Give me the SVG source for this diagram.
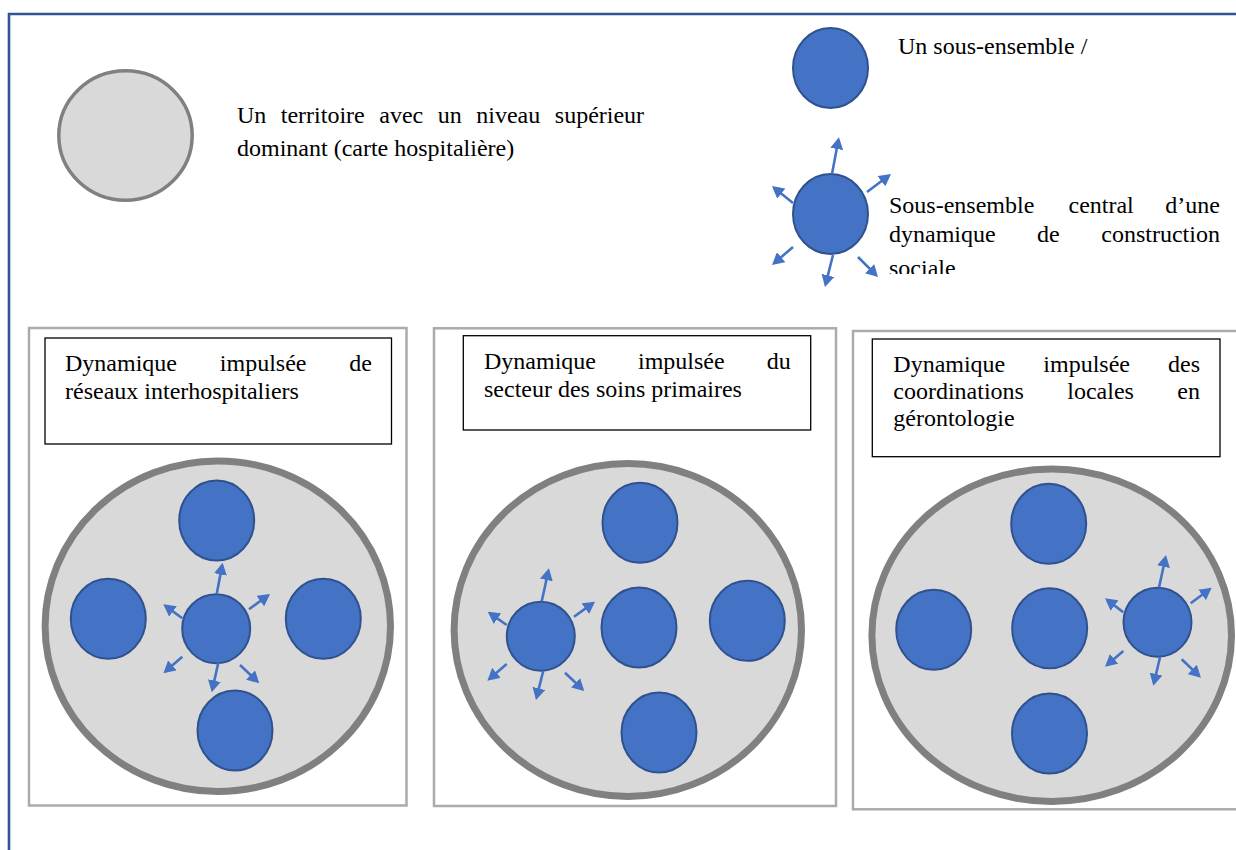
<svg xmlns="http://www.w3.org/2000/svg" width="1236" height="850" viewBox="0 0 1236 850">
<defs>
<style>
.t{font-family:"Liberation Serif",serif;font-size:24px;fill:#000}
.terr{fill:#D9D9D9;stroke:#808080}
.sub{fill:#4472C4;stroke:#2F528F;stroke-width:2}
.panel{fill:#fff;stroke:#ABABAB;stroke-width:2.5}
.tbox{fill:#fff;stroke:#000;stroke-width:1.3}
.arr{stroke:#4472C4;stroke-width:2.6;fill:none;marker-end:url(#ah)}
</style>
<marker id="ah" markerUnits="userSpaceOnUse" markerWidth="12" markerHeight="13" refX="9" refY="6.5" orient="auto">
<path d="M0,0 L12,6.5 L0,13 z" fill="#4472C4"/>
</marker>
<clipPath id="clipLeg"><rect x="880" y="180" width="356" height="94"/></clipPath>
</defs>
<rect x="0" y="0" width="1236" height="850" fill="#fff"/>
<g id="frame">
<path d="M9,850 V14 H1236" fill="none" stroke="#2F5597" stroke-width="2.6"/>
</g>

<g id="legend-territoire">
<ellipse class="terr" cx="125.5" cy="135.5" rx="66.7" ry="64.7" stroke-width="3.5"/>
<text class="t"><tspan x="237" y="123">Un</tspan><tspan x="280.8" y="123">territoire</tspan><tspan x="379.3" y="123">avec</tspan><tspan x="437.8" y="123">un</tspan><tspan x="476.3" y="123">niveau</tspan><tspan x="554.8" y="123">supérieur</tspan><tspan x="237" y="156">dominant (carte hospitalière)</tspan></text>
</g>

<g id="legend-sous-ensemble">
<ellipse class="sub" cx="830.5" cy="68" rx="37.5" ry="40"/>
<text class="t" x="898" y="54">Un sous-ensemble /</text>
</g>

<g id="legend-central">
<ellipse class="sub" cx="830.5" cy="214" rx="37.5" ry="40"/>
<g clip-path="url(#clipLeg)">
<text class="t"><tspan x="889" y="213">Sous-ensemble</tspan><tspan x="1068.5" y="213">central</tspan><tspan x="1165.3" y="213">d’une</tspan><tspan x="889" y="242">dynamique</tspan><tspan x="1037.1" y="242">de</tspan><tspan x="1101.3" y="242">construction</tspan><tspan x="889" y="276">sociale</tspan></text>
</g>
</g>

<g id="panel1">
<rect class="panel" x="29" y="328" width="377.5" height="477.5"/>
<rect class="tbox" x="45" y="338" width="346.5" height="106"/>
<text class="t"><tspan x="65" y="371">Dynamique</tspan><tspan x="219.8" y="371">impulsée</tspan><tspan x="349.3" y="371">de</tspan><tspan x="65" y="399">réseaux interhospitaliers</tspan></text>
<ellipse class="terr" cx="217.8" cy="626.2" rx="172.7" ry="165.3" stroke-width="7"/>
<ellipse class="sub" cx="216.7" cy="520.5" rx="37.5" ry="40"/>
<ellipse class="sub" cx="108.3" cy="618.8" rx="37.5" ry="40"/>
<ellipse class="sub" cx="323.3" cy="618.8" rx="37.5" ry="40"/>
<ellipse class="sub" cx="235" cy="730.5" rx="37.5" ry="40"/>
<ellipse class="sub" cx="216.2" cy="628.7" rx="34" ry="34.5"/>
</g>

<g id="panel2">
<rect class="panel" x="434" y="328.3" width="402" height="477.7"/>
<rect class="tbox" x="463.3" y="335.7" width="347.4" height="94.3"/>
<text class="t"><tspan x="484" y="369">Dynamique</tspan><tspan x="638" y="369">impulsée</tspan><tspan x="766.7" y="369">du</tspan><tspan x="484" y="397">secteur des soins primaires</tspan></text>
<ellipse class="terr" cx="627.8" cy="630" rx="173.7" ry="166.5" stroke-width="7"/>
<ellipse class="sub" cx="640" cy="522.8" rx="37.5" ry="40"/>
<ellipse class="sub" cx="639" cy="627.5" rx="37.5" ry="40"/>
<ellipse class="sub" cx="747.3" cy="620.8" rx="37.5" ry="40"/>
<ellipse class="sub" cx="659" cy="732.5" rx="37.5" ry="40"/>
<ellipse class="sub" cx="540.8" cy="636.2" rx="34" ry="34.5"/>
</g>

<g id="panel3">
<rect class="panel" x="853" y="331" width="400" height="478.3"/>
<rect class="tbox" x="872.3" y="339" width="347.7" height="117.7"/>
<text class="t"><tspan x="893.3" y="372">Dynamique</tspan><tspan x="1043.3" y="372">impulsée</tspan><tspan x="1168" y="372">des</tspan><tspan x="893.3" y="399">coordinations</tspan><tspan x="1067.3" y="399">locales</tspan><tspan x="1177.3" y="399">en</tspan><tspan x="893.3" y="426">gérontologie</tspan></text>
<ellipse class="terr" cx="1051.7" cy="635.3" rx="179.8" ry="166.2" stroke-width="7"/>
<ellipse class="sub" cx="1048.7" cy="523.8" rx="37.5" ry="40"/>
<ellipse class="sub" cx="933.7" cy="629.8" rx="37.5" ry="40"/>
<ellipse class="sub" cx="1049.7" cy="628.3" rx="37.5" ry="40"/>
<ellipse class="sub" cx="1049.5" cy="733.5" rx="37.5" ry="40"/>
<ellipse class="sub" cx="1157.5" cy="622.2" rx="34" ry="34.5"/>
</g>

<g id="connectors">
<path class="arr" d="M832,174 L838.4,140.1"/>
<path class="arr" d="M867,192 L888.6,175.8"/>
<path class="arr" d="M793,203 L774.3,187.9"/>
<path class="arr" d="M793,247 L774.3,263"/>
<path class="arr" d="M833,255 L825.7,284.1"/>
<path class="arr" d="M858,257 L875.9,274.9"/>

<path class="arr" d="M216.7,594 L222.1,565.6"/>
<path class="arr" d="M249,609.3 L267.6,595.8"/>
<path class="arr" d="M182.3,618.3 L165.7,606.1"/>
<path class="arr" d="M182.3,656.7 L165.6,671.3"/>
<path class="arr" d="M218.3,662.7 L212.4,689.4"/>
<path class="arr" d="M240,665 L257.1,681.2"/>

<path class="arr" d="M541.7,601.5 L548.3,571.2"/>
<path class="arr" d="M574,616.7 L592.6,603.4"/>
<path class="arr" d="M506.7,625 L490.2,613.4"/>
<path class="arr" d="M506.7,664 L489.6,678.7"/>
<path class="arr" d="M543.3,670.7 L536.7,697.1"/>
<path class="arr" d="M565,672.7 L582.1,688.9"/>

<path class="arr" d="M1159,587.5 L1165.4,557.9"/>
<path class="arr" d="M1190.7,603.3 L1209.3,589.5"/>
<path class="arr" d="M1123.3,612.3 L1107.4,600.1"/>
<path class="arr" d="M1123.3,651 L1107.3,664.7"/>
<path class="arr" d="M1160,657.3 L1154,682.8"/>
<path class="arr" d="M1181.7,659.3 L1198.8,675.6"/>
</g>
</svg>
